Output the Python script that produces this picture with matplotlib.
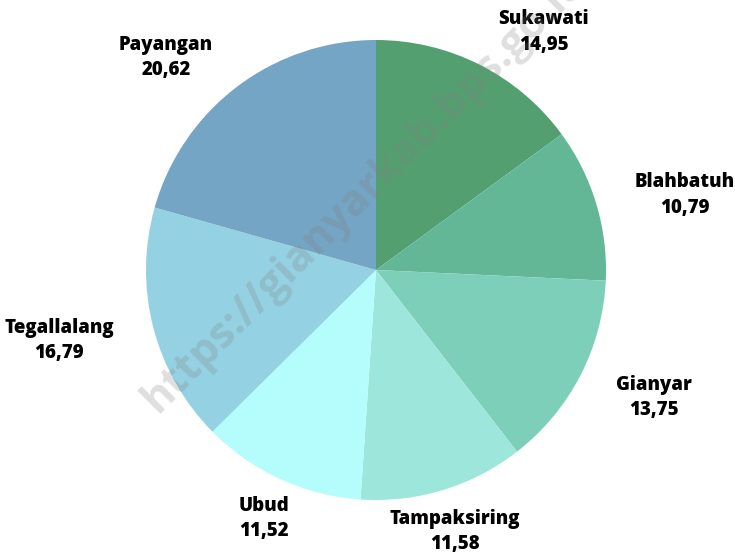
import numpy as np
import matplotlib
matplotlib.use('agg')
import matplotlib.pyplot as plt

kecamatan = ['Sukawati', 'Blahbatuh', 'Gianyar', 'Tampaksiring', 'Ubud', 'Tegallalang', 'Payangan']
persen = [14.95, 10.79, 13.75, 11.58, 11.52, 16.79, 20.62]
warna = ['#549f70', '#63b797', '#7ecfb9', '#9ce6dc', '#b5fdfd', '#94d1e2', '#74a5c4']

W, H = 735, 552
fig = plt.figure(figsize=(W / 100, H / 100), dpi=100)
ax = fig.add_axes([0, 0, 1, 1])

cx, cy, R = 376, H - 270, 230
wedges, _ = ax.pie(persen, colors=warna, startangle=90, counterclock=False,
                   center=(cx, cy), radius=R, frame=True,
                   wedgeprops=dict(linewidth=0))
ax.set_xlim(0, W)
ax.set_ylim(0, H)
ax.axis('off')

# label di luar lingkaran
renderer = fig.canvas.get_renderer()
for w, nama, p in zip(wedges, kecamatan, persen):
    ang = np.deg2rad((w.theta1 + w.theta2) / 2)
    c, s = np.cos(ang), np.sin(ang)
    teks = nama + '\n' + f'{p:.2f}'.replace('.', ',')
    t = ax.text(0, 0, teks, ha='center', va='center', fontsize=13.4,
                fontfamily='Open Sans', fontweight='heavy', color='black',
                linespacing=1.35)
    tw = t.get_window_extent(renderer).width
    x = cx + c * R * 1.175
    if abs(s) < 0.9:
        x += np.sign(c) * tw / 2
    y = cy + s * R * 1.175 - 3
    t.set_position((x, y))

# watermark
ax.text(158, H - 414, 'https://gianyarkab.bps.go.id', rotation=45,
        rotation_mode='anchor', ha='left', va='baseline', fontsize=31,
        fontfamily='Open Sans', fontweight='bold', color='#808080',
        alpha=0.25, zorder=5)

fig.savefig('out.png', dpi=100)
